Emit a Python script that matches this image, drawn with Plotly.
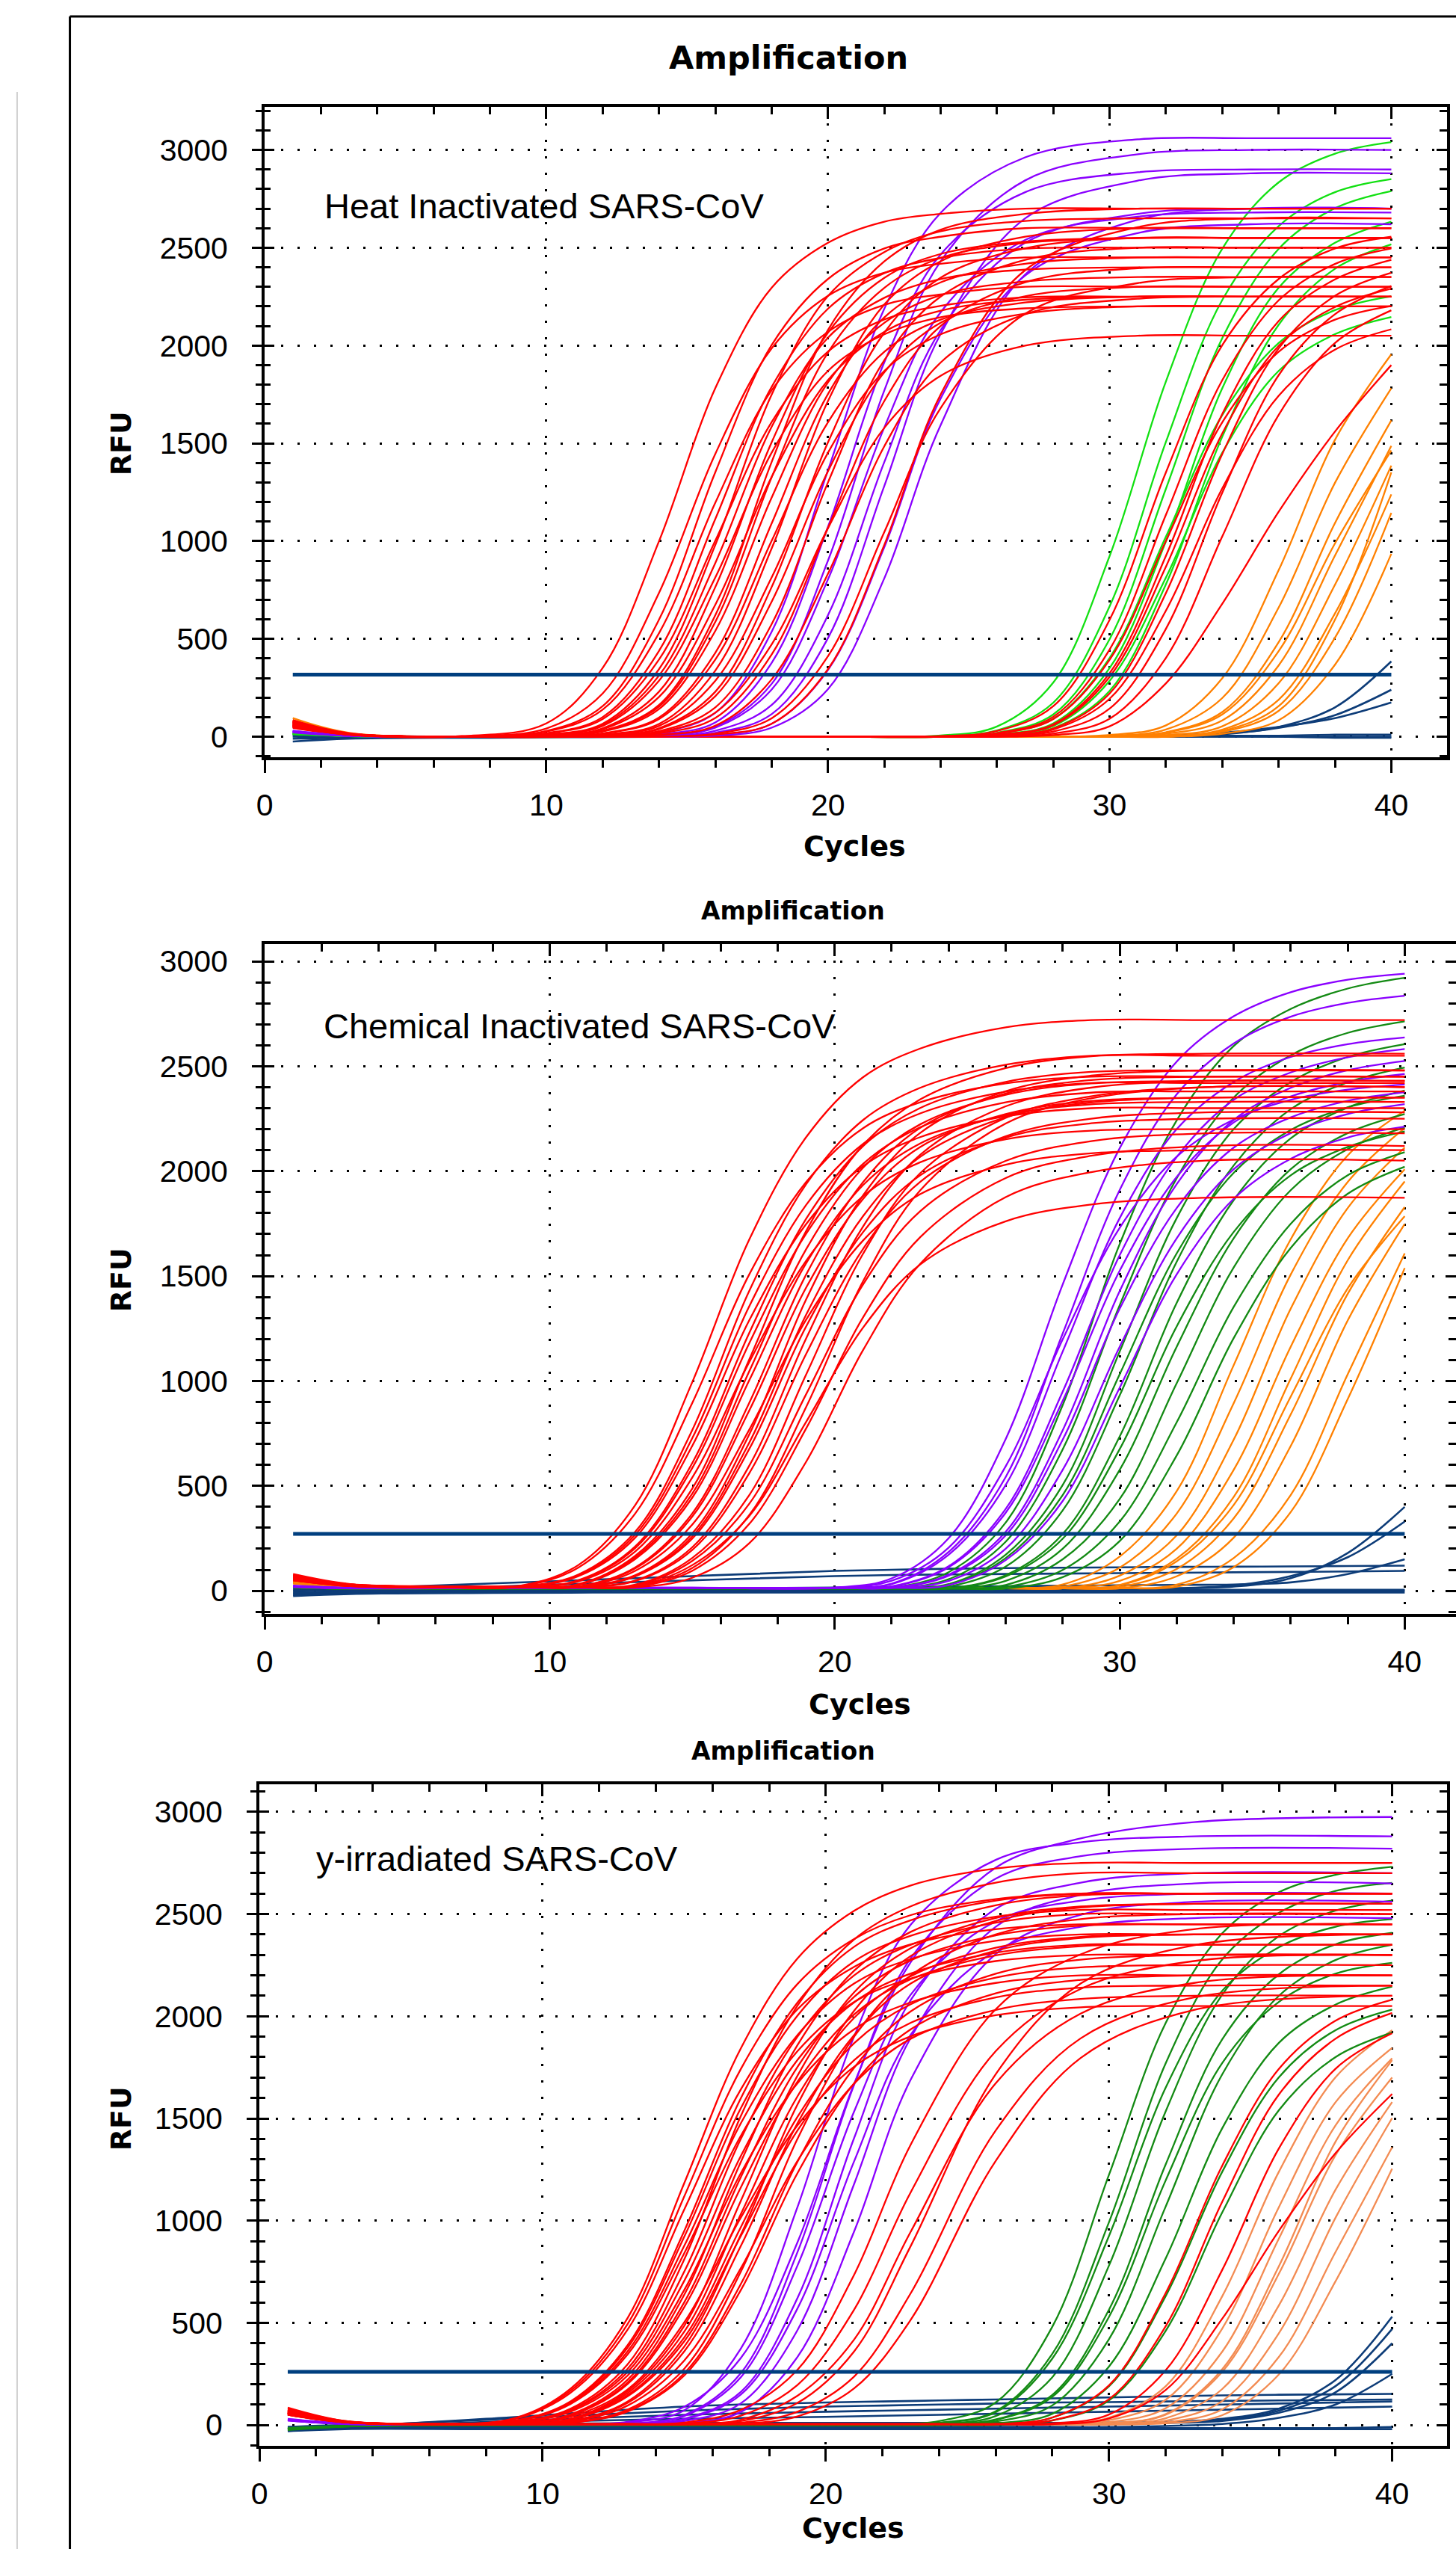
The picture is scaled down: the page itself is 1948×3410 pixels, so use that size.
import plotly.graph_objects as go

# ======================= DATA =======================
X_TICKS = [0, 10, 20, 30, 40]
Y_TICKS = [0, 500, 1000, 1500, 2000, 2500, 3000]
PANEL_LABELS = ["Heat Inactivated SARS-CoV", "Chemical Inactivated SARS-CoV", "y-irradiated SARS-CoV"]
THRESHOLD_CYCLES = [1, 40]

# ---------- Panel 1 : Heat inactivated ----------
P1_THRESHOLD = 317
P1_CYC_A = [1, 3, 7, 10, 12, 14, 16, 18, 20, 22, 24, 27, 31, 35, 40]
P1_CYC_B = [1, 3, 8, 15, 20, 24, 26, 28, 30, 32, 34, 36, 38, 40]
P1_RED_EARLY = [
    [75, 15, 3, 68, 351, 999, 1782, 2295, 2525, 2633, 2673, 2700, 2700, 2700, 2700],
    [60, 12, 2, 42, 221, 735, 1446, 1985, 2254, 2372, 2418, 2450, 2450, 2450, 2450],
    [85, 18, 0, 29, 156, 598, 1352, 2002, 2340, 2496, 2556, 2600, 2600, 2600, 2600],
    [55, 10, 0, 26, 138, 529, 1196, 1771, 2070, 2208, 2261, 2300, 2300, 2300, 2300],
    [70, 14, 0, 18, 100, 438, 1113, 1788, 2188, 2370, 2448, 2495, 2500, 2500, 2500],
    [60, 12, 0, 16, 90, 394, 1002, 1609, 1969, 2133, 2203, 2246, 2250, 2250, 2250],
    [65, 12, 0, 10, 60, 312, 888, 1584, 2040, 2244, 2340, 2388, 2400, 2400, 2400],
    [80, 16, 0, 11, 66, 345, 980, 1749, 2253, 2478, 2584, 2637, 2650, 2650, 2650],
    [55, 11, 0, 9, 55, 286, 814, 1452, 1870, 2057, 2145, 2190, 2200, 2200, 2200],
    [50, 10, 0, 5, 38, 203, 675, 1328, 1823, 2070, 2178, 2234, 2250, 2250, 2250],
    [75, 15, 0, 6, 43, 230, 765, 1505, 2066, 2346, 2468, 2531, 2550, 2550, 2550],
    [75, 15, 0, 3, 28, 153, 587, 1326, 1964, 2295, 2448, 2525, 2550, 2550, 2550],
    [60, 12, 0, 3, 26, 141, 541, 1222, 1811, 2116, 2257, 2328, 2350, 2350, 2350],
    [80, 16, 0, 3, 30, 162, 621, 1404, 2080, 2430, 2592, 2673, 2700, 2700, 2700],
    [70, 14, 0, 0, 17, 98, 429, 1090, 1752, 2144, 2323, 2418, 2450, 2450, 2450],
    [55, 11, 0, 0, 16, 90, 394, 1001, 1608, 1968, 2132, 2220, 2250, 2250, 2250],
    [55, 10, 0, 0, 9, 55, 286, 814, 1452, 1870, 2057, 2163, 2200, 2200, 2200],
    [80, 15, 0, 0, 11, 65, 338, 962, 1716, 2210, 2431, 2556, 2600, 2600, 2600],
    [60, 12, 0, 0, 5, 39, 207, 690, 1357, 1863, 2116, 2252, 2300, 2300, 2300],
    [75, 15, 0, 0, 6, 43, 230, 765, 1505, 2066, 2347, 2497, 2550, 2550, 2550],
    [70, 14, 0, 0, 3, 28, 150, 575, 1300, 1925, 2250, 2438, 2500, 2500, 2500],
    [50, 10, 0, 0, 2, 23, 123, 472, 1066, 1579, 1845, 1999, 2050, 2050, 2050],
    [65, 13, 0, 0, 0, 17, 96, 420, 1068, 1716, 2100, 2323, 2395, 2400, 2400],
    [55, 11, 0, 0, 0, 9, 56, 293, 833, 1485, 1913, 2160, 2239, 2250, 2250],
    [60, 12, 0, 0, 0, 0, 16, 94, 411, 1046, 1680, 2162, 2319, 2350, 2350],
    [70, 14, 0, 0, 0, 0, 11, 66, 345, 981, 1749, 2385, 2605, 2650, 2650],
]
P1_PURPLE = [
    [30, 6, 0, 0, 0, 21, 122, 536, 1362, 2188, 2678, 2962, 3054, 3060, 3060],
    [25, 5, 0, 0, 0, 12, 73, 377, 1073, 1914, 2465, 2784, 2886, 2900, 2900],
    [30, 5, 0, 0, 0, 6, 51, 270, 900, 1770, 2430, 2844, 2978, 3000, 3000],
    [25, 5, 0, 0, 0, 3, 30, 162, 621, 1404, 2079, 2525, 2673, 2700, 2700],
    [28, 5, 0, 0, 0, 0, 20, 115, 504, 1282, 2059, 2650, 2843, 2880, 2880],
    [22, 4, 0, 0, 0, 0, 10, 66, 341, 969, 1729, 2358, 2575, 2620, 2620],
    [25, 5, 0, 0, 0, 0, 5, 46, 243, 810, 1593, 2363, 2643, 2700, 2700],
    [25, 5, 0, 0, 0, 5, 46, 241, 804, 1581, 2170, 2540, 2659, 2680, 2680],
]
P1_GREEN = [
    [20, 5, 0, 0, 0, 6, 52, 277, 924, 1817, 2495, 2834, 2981, 3040],
    [15, 4, 0, 0, 0, 3, 32, 174, 667, 1508, 2233, 2610, 2784, 2851],
    [15, 4, 0, 0, 0, 0, 20, 114, 499, 1268, 2038, 2494, 2702, 2790],
    [18, 4, 0, 0, 0, 0, 11, 68, 351, 999, 1782, 2295, 2525, 2633],
    [15, 4, 0, 0, 0, 0, 5, 44, 234, 780, 1534, 2106, 2392, 2517],
    [12, 3, 0, 0, 0, 0, 16, 92, 403, 1023, 1645, 2013, 2181, 2252],
    [14, 3, 0, 0, 0, 0, 9, 55, 286, 814, 1452, 1870, 2058, 2146],
]
P1_RED_LATE = [
    [60, 12, 0, 0, 0, 3, 29, 156, 598, 1352, 2002, 2340, 2496, 2556],
    [55, 11, 0, 0, 0, 0, 18, 102, 446, 1135, 1823, 2231, 2417, 2496],
    [70, 14, 0, 0, 0, 0, 10, 63, 325, 925, 1650, 2125, 2338, 2438],
    [50, 10, 0, 0, 0, 0, 9, 59, 306, 870, 1551, 1998, 2197, 2291],
    [65, 13, 0, 0, 0, 0, 5, 42, 221, 735, 1446, 1985, 2254, 2372],
    [55, 11, 0, 0, 0, 0, 2, 26, 144, 552, 1248, 1848, 2160, 2304],
    [60, 12, 0, 0, 0, 0, 0, 16, 92, 403, 1024, 1645, 2013, 2180],
    [45, 9, 0, 0, 0, 0, 0, 8, 53, 273, 680, 1150, 1560, 1900],
    [50, 10, 0, 0, 0, 0, 4, 37, 194, 645, 1270, 1743, 1979, 2083],
    [50, 10, 0, 0, 0, 0, 16, 90, 393, 1001, 1608, 1968, 2132, 2202],
]
P1_ORANGE = [
    [95, 20, 0, 0, 0, 0, 0, 0, 9, 58, 299, 851, 1518, 1955],
    [80, 16, 0, 0, 0, 0, 0, 0, 4, 37, 198, 660, 1298, 1782],
    [70, 14, 0, 0, 0, 0, 0, 0, 2, 23, 126, 483, 1092, 1617],
    [75, 15, 0, 0, 0, 0, 0, 0, 0, 15, 83, 364, 926, 1487],
    [65, 13, 0, 0, 0, 0, 0, 0, 0, 8, 53, 273, 777, 1386],
    [85, 17, 0, 0, 0, 0, 0, 0, 0, 4, 36, 189, 630, 1239],
    [60, 12, 0, 0, 0, 0, 0, 0, 0, 0, 24, 132, 506, 1144],
    [70, 14, 0, 0, 0, 0, 0, 0, 0, 0, 15, 84, 368, 935],
    [75, 15, 0, 0, 0, 0, 0, 0, 0, 21, 114, 437, 988, 1463],
    [70, 14, 0, 0, 0, 0, 0, 0, 0, 0, 29, 156, 598, 1352],
]
P1_BLUE = [
    [10, 0, 0, 0, 0, 0, 0, 0, 0, 3, 12, 50, 150, 385],
    [5, 0, 0, 0, 0, 0, 0, 0, 2, 5, 15, 45, 110, 240],
    [0, -5, 0, 0, 0, 0, 0, 0, 0, 5, 20, 50, 95, 175],
    [-10, -5, 0, 0, 0, 0, 0, 0, 0, 0, 0, 0, 0, 0],
    [-25, -10, -5, 0, 0, 0, 0, 0, 0, 0, 0, 0, -5, -5],
    [15, 5, 0, 0, 0, 0, 0, 0, 0, 0, 5, 5, 10, 10],
]

# ---------- Panel 2 : Chemical inactivated ----------
P2_THRESHOLD = 271
P2_CYC_A = [1, 3, 6, 9, 11, 13, 15, 17, 19, 21, 23, 26, 29, 33, 40]
P2_CYC_C = [1, 3, 8, 15, 20, 22, 24, 26, 28, 30, 32, 34, 36, 38, 40]
P2_RED = [
    [70, 30, 20, 25, 122, 408, 993, 1673, 2162, 2448, 2584, 2685, 2720, 2720, 2720],
    [60, 28, 18, 22, 110, 368, 894, 1507, 1948, 2205, 2328, 2418, 2450, 2450, 2450],
    [75, 30, 20, 20, 77, 281, 765, 1428, 1938, 2244, 2397, 2507, 2550, 2550, 2550],
    [65, 28, 19, 19, 73, 267, 726, 1355, 1839, 2130, 2275, 2379, 2420, 2420, 2420],
    [55, 25, 18, 18, 69, 253, 690, 1288, 1748, 2024, 2162, 2261, 2300, 2300, 2300],
    [65, 28, 20, 20, 50, 211, 608, 1228, 1773, 2120, 2301, 2425, 2473, 2480, 2480],
    [60, 26, 19, 19, 48, 203, 584, 1179, 1702, 2035, 2209, 2328, 2374, 2380, 2380],
    [50, 24, 16, 18, 44, 187, 539, 1089, 1573, 1881, 2042, 2152, 2193, 2200, 2200],
    [70, 30, 20, 20, 29, 158, 462, 1045, 1628, 2017, 2223, 2364, 2418, 2430, 2430],
    [80, 32, 22, 22, 31, 166, 486, 1101, 1715, 2125, 2342, 2491, 2547, 2560, 2560],
    [60, 26, 18, 18, 28, 151, 443, 1002, 1561, 1934, 2132, 2267, 2318, 2330, 2330],
    [65, 27, 19, 20, 20, 106, 353, 858, 1445, 1868, 2115, 2272, 2334, 2350, 2350],
    [65, 28, 20, 20, 20, 111, 368, 895, 1507, 1948, 2206, 2370, 2434, 2450, 2450],
    [55, 24, 17, 18, 18, 95, 315, 767, 1292, 1670, 1890, 2031, 2085, 2100, 2100],
    [70, 30, 20, 20, 20, 74, 273, 744, 1389, 1885, 2182, 2381, 2455, 2480, 2480],
    [60, 26, 18, 18, 18, 70, 259, 705, 1316, 1786, 2068, 2257, 2327, 2350, 2350],
    [55, 25, 18, 18, 18, 68, 248, 675, 1260, 1710, 1980, 2160, 2228, 2250, 2250],
    [60, 26, 18, 18, 18, 46, 194, 559, 1129, 1630, 1949, 2166, 2250, 2280, 2280],
    [70, 30, 20, 20, 20, 49, 207, 595, 1203, 1737, 2078, 2309, 2398, 2430, 2430],
    [55, 25, 18, 18, 18, 26, 142, 414, 937, 1461, 1809, 2049, 2143, 2180, 2180],
    [65, 28, 19, 19, 19, 29, 156, 455, 1031, 1607, 1990, 2254, 2357, 2400, 2400],
    [50, 22, 16, 16, 16, 22, 122, 356, 805, 1255, 1555, 1761, 1841, 1873, 1873],
    [65, 28, 19, 19, 19, 20, 108, 360, 876, 1476, 1908, 2227, 2347, 2400, 2400],
    [55, 24, 17, 17, 17, 18, 95, 318, 774, 1304, 1685, 1967, 2073, 2120, 2120],
    [50, 22, 16, 16, 16, 16, 62, 226, 615, 1148, 1558, 1876, 1995, 2050, 2050],
]
P2_PURPLE = [
    [25, 15, 15, 15, 15, 59, 251, 723, 1460, 2109, 2522, 2738, 2853, 2912, 2941],
    [20, 12, 14, 14, 14, 48, 206, 593, 1198, 1730, 2069, 2246, 2340, 2389, 2413],
    [22, 14, 15, 15, 15, 34, 185, 542, 1226, 1910, 2366, 2608, 2736, 2802, 2836],
    [20, 12, 14, 14, 14, 32, 172, 504, 1140, 1776, 2200, 2425, 2544, 2605, 2637],
    [22, 13, 14, 14, 14, 21, 117, 390, 949, 1599, 2067, 2340, 2470, 2543, 2582],
    [20, 12, 14, 14, 14, 20, 112, 372, 905, 1525, 1972, 2232, 2356, 2425, 2463],
    [20, 12, 14, 14, 14, 14, 72, 264, 720, 1344, 1824, 2112, 2256, 2335, 2376],
    [22, 13, 14, 14, 14, 14, 77, 281, 765, 1428, 1938, 2244, 2397, 2481, 2525],
    [20, 12, 14, 14, 14, 14, 47, 200, 576, 1163, 1680, 2009, 2181, 2272, 2319],
    [18, 11, 13, 13, 13, 13, 27, 146, 428, 968, 1508, 1868, 2059, 2160, 2212],
]
P2_GREEN = [
    [20, 10, 12, 12, 12, 15, 89, 325, 885, 1652, 2242, 2596, 2773, 2870, 2921],
    [18, 10, 12, 12, 12, 12, 55, 234, 674, 1361, 1966, 2351, 2552, 2659, 2714],
    [18, 10, 12, 12, 12, 12, 32, 172, 504, 1140, 1776, 2200, 2425, 2544, 2605],
    [16, 9, 11, 11, 11, 11, 29, 156, 456, 1032, 1608, 1992, 2196, 2304, 2359],
    [18, 10, 12, 12, 12, 12, 20, 115, 383, 931, 1568, 2027, 2295, 2423, 2494],
    [18, 10, 12, 12, 12, 12, 12, 74, 270, 735, 1372, 1862, 2156, 2303, 2384],
    [16, 9, 11, 11, 11, 11, 11, 68, 248, 675, 1260, 1710, 1980, 2115, 2189],
    [16, 9, 11, 11, 11, 11, 11, 47, 200, 576, 1163, 1680, 2009, 2181, 2272],
    [16, 9, 11, 11, 11, 11, 11, 28, 150, 437, 989, 1541, 1909, 2105, 2208],
    [15, 9, 11, 11, 11, 11, 11, 18, 99, 330, 803, 1353, 1749, 1980, 2090],
    [15, 9, 11, 11, 11, 11, 11, 11, 65, 237, 645, 1204, 1634, 1892, 2021],
]
P2_ORANGE = [
    [40, 18, 12, 12, 12, 12, 12, 12, 30, 163, 475, 1075, 1675, 2075, 2288],
    [35, 16, 12, 12, 12, 12, 12, 12, 20, 110, 368, 894, 1507, 1948, 2205],
    [45, 20, 12, 12, 12, 12, 12, 12, 12, 72, 264, 720, 1344, 1824, 2112],
    [38, 17, 12, 12, 12, 12, 12, 12, 12, 47, 200, 576, 1163, 1680, 2009],
    [42, 18, 12, 12, 12, 12, 12, 12, 12, 28, 153, 447, 1011, 1575, 1951],
    [36, 16, 12, 12, 12, 12, 12, 12, 12, 26, 140, 409, 925, 1441, 1785],
    [40, 18, 12, 12, 12, 12, 12, 12, 12, 18, 104, 345, 840, 1415, 1829],
    [38, 17, 12, 12, 12, 12, 12, 12, 12, 12, 69, 253, 690, 1288, 1748],
    [36, 16, 12, 12, 12, 12, 12, 12, 12, 12, 29, 156, 456, 1032, 1608],
    [40, 18, 12, 12, 12, 12, 12, 12, 12, 12, 20, 113, 375, 913, 1538],
]
P2_BLUE = [
    [0, 10, 35, 70, 95, 100, 105, 108, 110, 112, 114, 115, 116, 118, 120],
    [-15, -5, 20, 50, 70, 75, 78, 80, 82, 84, 86, 88, 90, 92, 95],
    [-20, -10, 0, 10, 15, 18, 20, 22, 24, 26, 28, 30, 40, 80, 150],
    [5, 0, 5, 8, 10, 10, 10, 10, 10, 10, 12, 20, 60, 180, 400],
    [-5, -5, 0, 5, 5, 5, 5, 5, 5, 8, 12, 25, 70, 160, 330],
    [-10, -8, -5, 0, 0, 0, 0, 0, 0, 0, 0, 0, 0, 0, 0],
    [10, 5, 5, 5, 5, 5, 5, 5, 5, 5, 5, 5, 5, 5, 5],
    [-25, -15, -10, -8, -8, -8, -8, -8, -8, -8, -8, -8, -8, -8, -8],
]

# ---------- Panel 3 : gamma-irradiated ----------
P3_THRESHOLD = 260
P3_CYC_A = [1, 3, 6, 9, 11, 13, 15, 17, 19, 21, 23, 26, 29, 33, 40]
P3_CYC_B = [1, 3, 8, 15, 20, 22, 24, 26, 28, 30, 32, 34, 36, 38, 40]
P3_RED_EARLY = [
    [80, 20, 5, 33, 179, 523, 1183, 1843, 2283, 2516, 2640, 2723, 2750, 2750, 2750],
    [65, 16, 4, 29, 159, 466, 1054, 1642, 2034, 2242, 2352, 2426, 2450, 2450, 2450],
    [70, 17, 5, 31, 169, 494, 1118, 1742, 2158, 2378, 2495, 2573, 2600, 2600, 2600],
    [75, 18, 5, 21, 117, 390, 949, 1599, 2067, 2340, 2470, 2566, 2600, 2600, 2600],
    [60, 15, 4, 18, 104, 345, 840, 1415, 1829, 2070, 2185, 2270, 2300, 2300, 2300],
    [70, 17, 5, 20, 113, 378, 920, 1550, 2003, 2268, 2394, 2487, 2520, 2520, 2520],
    [65, 16, 4, 19, 108, 360, 876, 1476, 1908, 2160, 2280, 2369, 2400, 2400, 2400],
    [70, 17, 5, 13, 75, 275, 750, 1400, 1900, 2200, 2350, 2458, 2500, 2500, 2500],
    [60, 15, 4, 12, 71, 259, 705, 1316, 1786, 2068, 2209, 2311, 2350, 2350, 2350],
    [55, 14, 4, 11, 66, 242, 660, 1232, 1672, 1936, 2068, 2163, 2200, 2200, 2200],
    [85, 20, 5, 14, 81, 297, 810, 1512, 2052, 2376, 2538, 2654, 2700, 2700, 2700],
    [65, 16, 4, 7, 49, 208, 600, 1213, 1752, 2095, 2274, 2396, 2443, 2450, 2450],
    [70, 17, 5, 7, 52, 221, 637, 1287, 1859, 2223, 2413, 2543, 2592, 2600, 2600],
    [60, 15, 4, 7, 47, 200, 576, 1163, 1680, 2009, 2181, 2298, 2343, 2350, 2350],
    [55, 14, 4, 6, 41, 174, 502, 1015, 1466, 1753, 1902, 2005, 2044, 2050, 2050],
    [75, 18, 5, 5, 31, 166, 485, 1097, 1709, 2117, 2333, 2481, 2537, 2550, 2550],
    [60, 15, 4, 5, 27, 146, 428, 968, 1508, 1868, 2059, 2189, 2239, 2250, 2250],
    [55, 14, 4, 4, 26, 140, 409, 925, 1441, 1785, 1968, 2092, 2140, 2150, 2150],
    [65, 16, 4, 5, 29, 156, 456, 1032, 1608, 1992, 2196, 2335, 2388, 2400, 2400],
    [65, 16, 4, 4, 19, 108, 360, 876, 1476, 1908, 2160, 2321, 2383, 2400, 2400],
    [70, 17, 5, 4, 20, 115, 383, 931, 1568, 2027, 2295, 2466, 2532, 2550, 2550],
    [55, 14, 4, 4, 17, 95, 315, 767, 1292, 1670, 1890, 2031, 2085, 2100, 2100],
    [70, 17, 5, 4, 13, 75, 275, 750, 1400, 1900, 2200, 2400, 2475, 2500, 2500],
    [60, 15, 4, 4, 12, 69, 253, 690, 1288, 1748, 2024, 2208, 2277, 2300, 2300],
    [55, 14, 4, 4, 11, 66, 242, 660, 1232, 1672, 1936, 2112, 2178, 2200, 2200],
]
P3_PURPLE = [
    [30, 8, 2, 2, 2, 15, 89, 328, 894, 1669, 2265, 2727, 2870, 2950, 2975],
    [28, 7, 2, 2, 2, 12, 72, 374, 1066, 1901, 2448, 2765, 2851, 2880, 2880],
    [26, 7, 2, 2, 2, 6, 48, 254, 846, 1664, 2284, 2673, 2783, 2820, 2820],
    [25, 6, 2, 2, 2, 3, 30, 162, 621, 1404, 2079, 2525, 2654, 2700, 2700],
    [24, 6, 2, 2, 2, 2, 19, 106, 464, 1179, 1895, 2438, 2594, 2650, 2650],
    [22, 5, 2, 2, 2, 2, 10, 64, 333, 947, 1690, 2304, 2496, 2560, 2560],
    [24, 6, 2, 2, 2, 5, 44, 234, 780, 1534, 2106, 2465, 2566, 2600, 2600],
    [22, 5, 2, 2, 2, 3, 27, 149, 570, 1290, 1910, 2319, 2438, 2480, 2480],
]
P3_RED_MID = [
    [60, 15, 4, 4, 4, 4, 12, 74, 270, 735, 1372, 2034, 2303, 2426, 2450],
    [55, 14, 4, 4, 4, 4, 7, 46, 196, 564, 1139, 1829, 2134, 2270, 2300],
    [50, 13, 4, 4, 4, 4, 4, 26, 143, 418, 946, 1672, 2013, 2163, 2200],
    [60, 15, 4, 4, 4, 4, 4, 19, 108, 360, 876, 1716, 2160, 2347, 2400],
    [55, 14, 4, 4, 4, 4, 4, 11, 65, 237, 645, 1441, 1892, 2092, 2150],
    [50, 13, 4, 4, 4, 4, 4, 6, 42, 179, 515, 1292, 1796, 2031, 2100],
]
P3_GREEN = [
    [-25, -8, 0, 0, 0, 0, 19, 110, 481, 1224, 1966, 2406, 2607, 2692, 2731],
    [-20, -6, 0, 0, 0, 0, 11, 67, 348, 992, 1769, 2278, 2506, 2613, 2653],
    [-18, -5, 0, 0, 0, 0, 10, 63, 325, 925, 1650, 2125, 2338, 2438, 2475],
    [-22, -7, 0, 0, 0, 0, 5, 44, 234, 780, 1534, 2106, 2392, 2517, 2566],
    [-20, -6, 0, 0, 0, 0, 2, 27, 147, 564, 1274, 1887, 2205, 2352, 2408],
    [-18, -5, 0, 0, 0, 0, 2, 25, 138, 529, 1196, 1771, 2070, 2208, 2261],
    [-22, -7, 0, 0, 0, 0, 0, 17, 96, 420, 1068, 1716, 2100, 2275, 2350],
    [-20, -6, 0, 0, 0, 0, 0, 9, 55, 286, 814, 1452, 1870, 2057, 2145],
    [-18, -5, 0, 0, 0, 0, 0, 4, 36, 189, 630, 1239, 1701, 1932, 2033],
    [-15, -5, 0, 0, 0, 0, 0, 0, 22, 120, 460, 1040, 1540, 1800, 1920],
]
P3_RED_LATE = [
    [60, 15, 4, 4, 4, 4, 4, 4, 37, 194, 645, 1269, 1742, 1978, 2081],
    [55, 14, 4, 4, 4, 4, 4, 4, 23, 126, 483, 1092, 1617, 1890, 2016],
    [60, 15, 4, 4, 4, 4, 4, 4, 8, 51, 267, 759, 1353, 1743, 1917],
    [50, 13, 4, 4, 4, 4, 4, 4, 4, 32, 171, 520, 950, 1330, 1620],
]
P3_ORANGE = [
    [70, 15, 3, 3, 3, 3, 3, 3, 4, 36, 189, 630, 1239, 1701, 1932],
    [60, 14, 3, 3, 3, 3, 3, 3, 3, 23, 123, 472, 1066, 1579, 1845],
    [65, 14, 3, 3, 3, 3, 3, 3, 3, 14, 82, 359, 912, 1466, 1794],
    [60, 13, 3, 3, 3, 3, 3, 3, 3, 8, 50, 260, 740, 1320, 1700],
    [55, 12, 3, 3, 3, 3, 3, 3, 3, 4, 33, 176, 585, 1151, 1580],
    [60, 13, 3, 3, 3, 3, 3, 3, 3, 3, 21, 117, 449, 1014, 1502],
    [55, 12, 3, 3, 3, 3, 3, 3, 3, 3, 13, 76, 333, 846, 1359],
    [50, 11, 3, 3, 3, 3, 3, 3, 3, 3, 8, 48, 247, 703, 1254],
    [65, 14, 3, 3, 3, 3, 3, 3, 3, 8, 53, 273, 777, 1386, 1785],
]
P3_BLUE = [
    [-30, -10, 30, 90, 110, 115, 120, 125, 130, 135, 140, 145, 148, 150, 152],
    [-20, -5, 25, 70, 90, 95, 100, 105, 110, 112, 115, 118, 120, 122, 125],
    [-25, -10, 15, 50, 65, 70, 75, 80, 85, 90, 95, 100, 105, 110, 115],
    [-15, -5, 10, 30, 40, 45, 50, 55, 60, 65, 70, 75, 80, 85, 90],
    [-10, 0, 5, 10, 10, 10, 10, 10, 10, 12, 15, 30, 80, 220, 530],
    [-15, -5, 0, 5, 5, 5, 5, 5, 5, 8, 12, 25, 70, 190, 470],
    [-20, -10, -5, 0, 0, 0, 0, 0, 0, 5, 10, 20, 60, 160, 400],
    [-25, -15, -10, -10, -10, -10, -10, -10, -10, -10, -5, 5, 35, 100, 250],
    [-30, -20, -20, -20, -20, -20, -20, -20, -20, -20, -20, -20, -20, -20, -20],
    [-10, -10, -15, -15, -15, -15, -15, -15, -15, -15, -15, -15, -15, -15, -10],
]

# ======================= STYLE / LAYOUT =======================
W, H = 1948, 3410
RED = "#ff0000"
PURPLE = "#8a00ff"
LIME = "#12e012"
DKGREEN = "#138a13"
ORANGE = "#ff8000"
SALMON = "#f38b52"
NAVY = "#0d3c78"
THRESH = "#003f7f"
TICK_FONT = dict(family="Liberation Sans, Arial, sans-serif", size=41, color="black")

GEOM = [
    dict(left=345, right=1936, top=143, bottom=1013, xr=[0, 41.98], yr=[-105, 3220]),
    dict(left=345, right=1948, top=1263, bottom=2159, xr=[0, 41.8], yr=[-110, 3082]),
    dict(left=338, right=1936, top=2387, bottom=3272, xr=[0, 41.94], yr=[-102, 3135]),
]
TITLES = [(1050, 77, 43), (1056, 1218, 33), (1043, 2342, 33)]
CYCLES_POS = [(1139, 1132), (1146, 2280), (1137, 3382)]
RFU_POS = [(152, 593), (152, 1712), (152, 2834)]
LABEL_POS = [(423, 275, 47), (422, 1372, 47), (412, 2486, 47)]

PANEL_GROUPS = [
    [(P1_CYC_B, P1_BLUE, NAVY, 2.6), (P1_CYC_B, P1_ORANGE, ORANGE, 2.3), (P1_CYC_B, P1_GREEN, LIME, 2.3),
     (P1_CYC_B, P1_RED_LATE, RED, 2.3), (P1_CYC_A, P1_PURPLE, PURPLE, 2.3), (P1_CYC_A, P1_RED_EARLY, RED, 2.3)],
    [(P2_CYC_C, P2_BLUE, NAVY, 2.6), (P2_CYC_C, P2_ORANGE, ORANGE, 2.3), (P2_CYC_C, P2_GREEN, DKGREEN, 2.3),
     (P2_CYC_C, P2_PURPLE, PURPLE, 2.3), (P2_CYC_A, P2_RED, RED, 2.3)],
    [(P3_CYC_B, P3_BLUE, NAVY, 2.6), (P3_CYC_B, P3_ORANGE, SALMON, 2.3), (P3_CYC_B, P3_GREEN, DKGREEN, 2.3),
     (P3_CYC_B, P3_RED_LATE, RED, 2.3), (P3_CYC_A, P3_PURPLE, PURPLE, 2.3), (P3_CYC_A, P3_RED_MID, RED, 2.3),
     (P3_CYC_A, P3_RED_EARLY, RED, 2.3)],
]
THRESHOLDS = [P1_THRESHOLD, P2_THRESHOLD, P3_THRESHOLD]


def akey(p, n):
    return p + "axis" + ("" if n == 1 else str(n))


def aref(p, n):
    return p + ("" if n == 1 else str(n))


fig = go.Figure()
layout = {}
annotations = []

for i, g in enumerate(GEOM):
    xa, xb = 2 * i + 1, 2 * i + 2
    ya, yb, yc = 3 * i + 1, 3 * i + 2, 3 * i + 3
    dom_x = [g["left"] / W, min(1.0, g["right"] / W)]
    dom_y = [1 - g["bottom"] / H, 1 - g["top"] / H]

    common_x = dict(range=g["xr"], tickmode="array", tickvals=X_TICKS, zeroline=False, fixedrange=True,
                    tickcolor="black", tickwidth=3)
    common_y = dict(range=g["yr"], tickmode="array", tickvals=Y_TICKS, zeroline=False, fixedrange=True,
                    tickcolor="black", tickwidth=3)

    layout[akey("x", xa)] = dict(
        common_x, domain=dom_x, anchor=aref("y", ya), side="bottom",
        showline=True, linecolor="black", linewidth=4,
        ticks="outside", ticklen=17,
        minor=dict(dtick=2, tick0=0, ticks="outside", ticklen=10, tickwidth=3, tickcolor="black", showgrid=False),
        showgrid=True, gridcolor="black", gridwidth=3, griddash="3px,19px",
        showticklabels=True, tickfont=TICK_FONT, ticklabelstandoff=8)
    layout[akey("x", xb)] = dict(
        common_x, overlaying=aref("x", xa), anchor=aref("y", ya), side="top",
        showline=True, linecolor="black", linewidth=4,
        ticks="inside", ticklen=16,
        minor=dict(dtick=2, tick0=0, ticks="inside", ticklen=10, tickwidth=3, tickcolor="black", showgrid=False),
        showgrid=False, showticklabels=False)
    layout[akey("y", ya)] = dict(
        common_y, domain=dom_y, anchor=aref("x", xa), side="left",
        showline=True, linecolor="black", linewidth=4,
        ticks="outside", ticklen=13,
        minor=dict(dtick=100, tick0=0, ticks="outside", ticklen=8, tickwidth=3, tickcolor="black", showgrid=False),
        showgrid=True, gridcolor="black", gridwidth=3, griddash="3px,19px",
        showticklabels=True, tickfont=TICK_FONT, tickformat="d", ticklabelstandoff=24)
    layout[akey("y", yb)] = dict(
        common_y, overlaying=aref("y", ya), anchor=aref("x", xa), side="left",
        showline=False, ticks="inside", ticklen=13,
        minor=dict(dtick=100, tick0=0, ticks="inside", ticklen=8, tickwidth=3, tickcolor="black", showgrid=False),
        showgrid=False, showticklabels=False)
    layout[akey("y", yc)] = dict(
        common_y, overlaying=aref("y", ya), anchor=aref("x", xa), side="right",
        showline=True, linecolor="black", linewidth=4, ticks="inside", ticklen=14,
        minor=dict(dtick=100, tick0=0, ticks="inside", ticklen=10, tickwidth=3, tickcolor="black", showgrid=False),
        showgrid=False, showticklabels=False)

    # amplification curves
    for cycles, rows, color, lw in PANEL_GROUPS[i]:
        for row in rows:
            fig.add_trace(go.Scatter(
                x=cycles, y=row, mode="lines",
                line=dict(color=color, width=lw, shape="spline", smoothing=1.0),
                xaxis=aref("x", xa), yaxis=aref("y", ya), showlegend=False, hoverinfo="skip"))
    # threshold line
    fig.add_trace(go.Scatter(
        x=THRESHOLD_CYCLES, y=[THRESHOLDS[i], THRESHOLDS[i]], mode="lines",
        line=dict(color=THRESH, width=5), xaxis=aref("x", xa), yaxis=aref("y", ya),
        showlegend=False, hoverinfo="skip"))
    # empty traces so the mirrored (overlay) axes get drawn
    for xr_, yr_ in [(aref("x", xb), aref("y", ya)), (aref("x", xa), aref("y", yb)), (aref("x", xa), aref("y", yc))]:
        fig.add_trace(go.Scatter(x=[], y=[], xaxis=xr_, yaxis=yr_, showlegend=False, hoverinfo="skip"))

    tx, ty, ts = TITLES[i]
    annotations.append(dict(x=tx / W, y=1 - ty / H, xref="paper", yref="paper", text="<b>Amplification</b>",
                            showarrow=False, xanchor="center", yanchor="middle",
                            font=dict(family="DejaVu Sans, Verdana, sans-serif", size=ts, color="black")))
    cx, cy = CYCLES_POS[i]
    annotations.append(dict(x=cx / W, y=1 - cy / H, xref="paper", yref="paper", text="<b>Cycles</b>",
                            showarrow=False, xanchor="center", yanchor="middle",
                            font=dict(family="DejaVu Sans, Verdana, sans-serif", size=38, color="black")))
    rx, ry = RFU_POS[i]
    annotations.append(dict(x=rx / W, y=1 - ry / H, xref="paper", yref="paper", text="<b>RFU</b>",
                            showarrow=False, xanchor="center", yanchor="middle", textangle=-90,
                            font=dict(family="DejaVu Sans, Verdana, sans-serif", size=38, color="black")))
    lx, ly, ls = LABEL_POS[i]
    annotations.append(dict(x=lx / W, y=1 - ly / H, xref="paper", yref="paper", text=PANEL_LABELS[i],
                            showarrow=False, xanchor="left", yanchor="middle",
                            font=dict(family="Liberation Sans, Arial, sans-serif", size=ls, color="black")))

shapes = [
    dict(type="line", xref="paper", yref="paper", x0=83 / W, x1=83 / W, y0=0, y1=1 - 22 / H,
         line=dict(color="black", width=3)),
    dict(type="line", xref="paper", yref="paper", x0=83 / W, x1=1, y0=1 - 22 / H, y1=1 - 22 / H,
         line=dict(color="black", width=3)),
    dict(type="line", xref="paper", yref="paper", x0=12 / W, x1=12 / W, y0=0, y1=1 - 123 / H,
         line=dict(color="#cfcfcf", width=2)),
]

fig.update_layout(
    width=W, height=H, autosize=False,
    margin=dict(l=0, r=0, t=0, b=0, pad=0),
    paper_bgcolor="white", plot_bgcolor="white",
    showlegend=False, annotations=annotations, shapes=shapes,
    **layout,
)

fig.write_html("out.html", config=dict(displayModeBar=False),
               post_script="document.body.style.margin='0px';document.body.style.overflow='hidden';")
